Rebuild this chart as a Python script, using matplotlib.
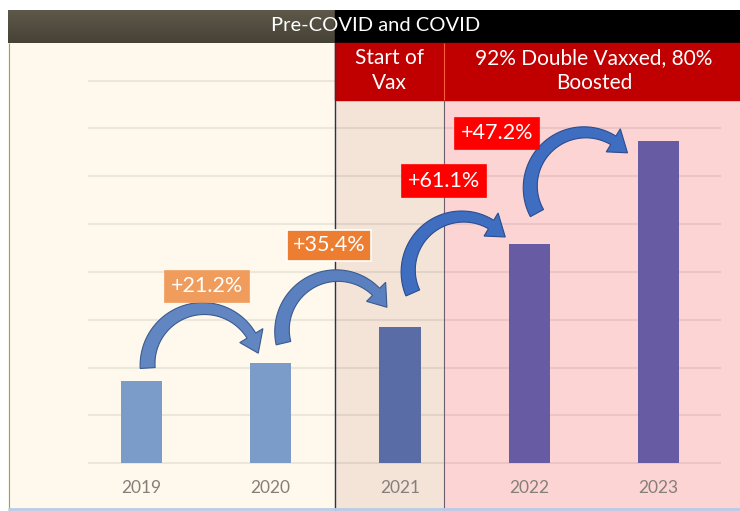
import matplotlib

matplotlib.use('Agg')
import matplotlib.pyplot as plt
import numpy as np
from matplotlib.patches import Polygon, Rectangle

plt.rcParams['font.family'] = ['Lato', 'DejaVu Sans']

years = ['2019', '2020', '2021', '2022', '2023']
values = [1.72, 2.09, 2.84, 4.58, 6.74]
bar_colors = ['#7b9bc8', '#7b9bc8', '#5a6ca6', '#675ca4', '#675ca4']
changes = ['+21.2%', '+35.4%', '+61.1%', '+47.2%']
change_colors = ['#f09c5c', '#ed7d31', '#ff0000', '#ff0000']
change_edges = ['#f09c5c', 'white', '#ff0000', '#ff0000']

# label centres and arrow end offsets (relative to the bars they join)
label_pos = [(0.51, 3.70), (1.45, 4.56), (2.34, 5.90), (2.75, 6.90)]
arrow_start = [(0.05, 0.27), (0.10, 0.42), (0.10, 0.72), (0.06, 0.65)]
arrow_end = [(-0.095, 0.21), (-0.10, 0.42), (-0.185, 0.15), (-0.24, -0.25)]
arrow_sweep = [172, 168, 165, 170]
arrow_fill = ['#6186c2', '#5b80bf', '#3f6dc0', '#3f6dc0']
arrow_edge = ['#3b5a8e', '#3b5a8e', '#2a4d8f', '#2a4d8f']

XMIN, XMAX = -1.03, 4.63
YMIN, YMAX = -1.0, 9.477
VAX_START, VAX_FULL = 1.5, 2.34
PANEL_TOP, RED_BOTTOM = 8.79, 7.59


def curved_arrow(ax, p0, p1, sweep, fc, ec, w0=15, w1=10, head_w=27, head_len=19):
    # block arrow along a circular arc, built in pixel space then mapped back to data
    T = ax.transData
    a, b = T.transform(p0), T.transform(p1)
    chord = b - a
    c = np.hypot(*chord)
    phi = np.radians(sweep)
    R = c / (2 * np.sin(phi / 2))
    n = np.array([-chord[1], chord[0]]) / c
    centre = (a + b) / 2 - n * R * np.cos(phi / 2)
    a0 = np.arctan2(*(a - centre)[::-1])
    h = head_len / (R * phi)
    t = np.linspace(0, 1 - h, 60)
    ang = a0 - phi * t
    w = w0 + (w1 - w0) * t / (1 - h)
    radial = np.column_stack([np.cos(ang), np.sin(ang)])
    outer = centre + radial * (R + w / 2)[:, None]
    inner = centre + radial * (R - w / 2)[:, None]
    hb = radial[-1]
    head = [centre + hb * (R + head_w / 2), b, centre + hb * (R - head_w / 2)]
    pts = np.vstack([outer, head, inner[::-1]])
    ax.add_patch(Polygon(T.inverted().transform(pts), closed=True, facecolor=fc,
                         edgecolor=ec, lw=0.8, zorder=6))


fig = plt.figure(figsize=(7.4, 5.11), dpi=100)
ax = fig.add_axes([8 / 740, 0, 732 / 740, 501 / 511])
ax.set_xlim(XMIN, XMAX)
ax.set_ylim(YMIN, YMAX)
ax.axis('off')

# background regions
ax.add_patch(Rectangle((XMIN, YMIN), VAX_START - XMIN, PANEL_TOP - YMIN,
                       color='#fef9ec', zorder=0))
ax.add_patch(Rectangle((VAX_START, YMIN), VAX_FULL - VAX_START, PANEL_TOP - YMIN,
                       color='#f3e4d7', zorder=0))
ax.add_patch(Rectangle((VAX_FULL, YMIN), XMAX - VAX_FULL, PANEL_TOP - YMIN,
                       color='#fdd4d4', zorder=0))

# gridlines
ax.hlines(np.arange(0, 9), -0.41, 4.48, color='black', alpha=0.07, lw=1.5, zorder=1)

# header bars
grad = np.linspace(0, 1, 50).reshape(-1, 1)
ax.imshow(grad, extent=(XMIN, VAX_START, PANEL_TOP, YMAX), aspect='auto',
          cmap=matplotlib.colors.LinearSegmentedColormap.from_list('hdr', ['#474236', '#5e584a']),
          origin='lower', zorder=3)
ax.add_patch(Rectangle((VAX_START, PANEL_TOP), XMAX - VAX_START, YMAX - PANEL_TOP,
                       color='black', zorder=3))
ax.add_patch(Rectangle((VAX_START, RED_BOTTOM), XMAX - VAX_START, PANEL_TOP - RED_BOTTOM,
                       color='#c00000', zorder=3))
ax.text(1.81, 9.15, 'Pre-COVID and COVID', color='white', fontsize=14.5,
        ha='center', va='center', zorder=5)
ax.text(1.92, 8.21, 'Start of\nVax', color='white', fontsize=15, ha='center',
        va='center', linespacing=1.35, zorder=5)
ax.text(3.50, 8.21, '92% Double Vaxxed, 80%\nBoosted', color='white', fontsize=15,
        ha='center', va='center', linespacing=1.35, zorder=5)

# divider lines
ax.vlines(VAX_START, YMIN, PANEL_TOP, color='#22335c', lw=1, zorder=4)
ax.vlines(VAX_FULL, YMIN, RED_BOTTOM, color='#6a6070', lw=0.8, zorder=4)
ax.vlines(VAX_FULL, RED_BOTTOM, PANEL_TOP, color='#ff5a3c', lw=0.8, zorder=4)
ax.vlines(XMIN + 0.004, YMIN, PANEL_TOP, color='#999999', lw=0.8, zorder=4)
ax.hlines(-0.95, XMIN, XMAX, color='#b8cbe8', lw=2, zorder=4)

# bars
x = np.arange(len(years))
ax.bar(x, values, width=0.32, color=bar_colors, zorder=2)
for xi, yr in zip(x, years):
    ax.text(xi, -0.52, yr, color='#857f7a', fontsize=12.5, ha='center', va='center')

# curved arrows and percentage labels
for i in range(len(changes)):
    sx, sy = arrow_start[i]
    ex, ey = arrow_end[i]
    curved_arrow(ax, (x[i] + sx, values[i] + sy), (x[i + 1] + ex, values[i + 1] + ey),
                 arrow_sweep[i], arrow_fill[i], arrow_edge[i])
    lx, ly = label_pos[i]
    ax.text(lx, ly, changes[i], color='white', fontsize=15.5, ha='center', va='center',
            zorder=7,
            bbox=dict(boxstyle='square,pad=0.26', facecolor=change_colors[i],
                      edgecolor=change_edges[i], lw=1.2))

fig.savefig('out.png', dpi=100)
